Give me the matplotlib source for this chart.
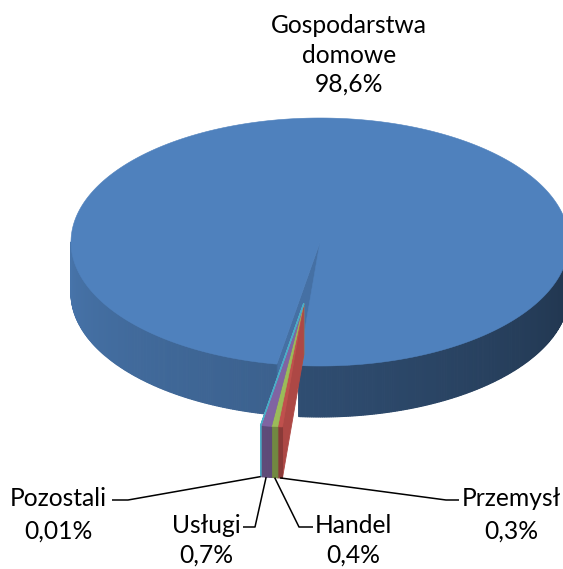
import numpy as np
import matplotlib
matplotlib.use("Agg")
import matplotlib.pyplot as plt
from matplotlib.patches import Polygon
from matplotlib.colors import to_rgb

# ---- data ----
categories = ["Gospodarstwa\ndomowe", "Przemysł", "Handel", "Usługi", "Pozostali"]
values = [98.6, 0.3, 0.4, 0.7, 0.01]
value_labels = ["98,6%", "0,3%", "0,4%", "0,7%", "0,01%"]
colors = ["#4f81bd", "#c0504d", "#9bbb59", "#8064a2", "#4bacc6"]
explode = [0.0, 0.5, 0.5, 0.5, 0.5]
first_slice_angle = 190.0

# ---- layout ----
W, H = 563, 569
fig = plt.figure(figsize=(W / 100, H / 100), dpi=100)
ax = fig.add_axes([0, 0, 1, 1])
ax.set_xlim(0, W)
ax.set_ylim(H, 0)
ax.axis("off")

FONT = "Lato"
FS = 17.7

cx, cy, a, b, depth = 320.0, 242.0, 249.0, 124.0, 51.0


def P(theta, r=1.0, off=(0.0, 0.0), z=0.0):
    t = np.radians(theta)
    return (cx + off[0] + r * a * np.sin(t), cy + off[1] - r * b * np.cos(t) + z)


def shade(c, f):
    r, g, bb = to_rgb(c)
    return (r * f, g * f, bb * f)


def wall_factor(theta):
    t = theta % 360
    return np.interp(t, [90, 184.9, 185.0, 190, 270], [0.40, 0.60, 0.72, 0.75, 0.90])


total = sum(values)
spans = [360.0 * v / total for v in values]
th0 = []
th1 = []
cur = first_slice_angle
for s in spans:
    th0.append(cur)
    th1.append(cur + s)
    cur += s

# offsets of exploded slices: common direction = bisector of exploded group
idx_exp = [i for i, e in enumerate(explode) if e > 0]
g0 = th0[idx_exp[0]]
g1 = th1[idx_exp[-1]]
gm = np.radians((g0 + g1) / 2)
offsets = []
for e in explode:
    offsets.append((e * a * np.sin(gm), -e * b * np.cos(gm)))


def poly(pts, fc, ec=None, lw=0.6, z=1):
    ax.add_patch(Polygon(pts, closed=True, facecolor=fc,
                         edgecolor=fc if ec is None else ec, linewidth=lw, zorder=z))


def radial_wall(i, f=0.88, z=1):
    off = offsets[i]
    t = th0[i]
    pts = [P(t, 0, off), P(t, 1, off), P(t, 1, off, depth), P(t, 0, off, depth)]
    ec = colors[i] if values[i] < 0.1 else None
    poly(pts, shade(colors[i], f), ec=shade(colors[i], f) if ec is None else ec, z=z)


def outer_wall(i, z=1):
    off = offsets[i]
    n = max(int((th1[i] - th0[i]) * 2), 2)
    ts = np.linspace(th0[i], th1[i], n + 1)
    for k in range(n):
        tm = (ts[k] + ts[k + 1]) / 2
        if 90 <= tm % 360 <= 270:
            pts = [P(ts[k], 1, off), P(ts[k + 1], 1, off),
                   P(ts[k + 1], 1, off, depth), P(ts[k], 1, off, depth)]
            c = shade(colors[i], wall_factor(tm))
            poly(pts, c, ec=colors[i] if values[i] < 0.1 else c, lw=0.8, z=z)


def top_face(i, z=1):
    off = offsets[i]
    n = max(int((th1[i] - th0[i]) * 2), 2)
    ts = np.linspace(th0[i], th1[i], n + 1)
    pts = [P(0, 0, off)] + [P(t, 1, off) for t in ts]
    ec = colors[i] if values[i] < 0.1 else None
    poly(pts, colors[i], ec=ec, lw=1.0 if ec else 0.4, z=z)


# main slice
radial_wall(0, 0.87, z=1)
outer_wall(0, z=2)
top_face(0, z=3)

# exploded small slices
for i in reversed(idx_exp):
    radial_wall(i, 0.9, z=4)
for i in idx_exp:
    outer_wall(i, z=5)
for i in idx_exp:
    top_face(i, z=6)

# ---- labels ----
txt = dict(fontfamily=FONT, fontsize=FS, color="#000000", ha="center", va="baseline", zorder=10)

label_pos = {  # (x center, first baseline, line step)
    0: (349, 33, 29.5),
    1: (511, 506, 33),
    2: (353, 533, 30),
    3: (206, 533, 30),
    4: (58, 506, 33),
}
leader = {  # label-end point, elbow point
    1: [(459, 500), (446, 500)],
    2: [(313, 527), (299, 527)],
    3: [(243, 527), (255, 527)],
    4: [(112, 500), (128, 500)],
}

for i in range(len(values)):
    x, y, step = label_pos[i]
    lines = categories[i].split("\n") + [value_labels[i]]
    for k, ln in enumerate(lines):
        ax.text(x, y + k * step, ln, **txt)

for i in idx_exp:
    tm = (th0[i] + th1[i]) / 2
    anchor = P(tm, 1, offsets[i], depth)
    p_end, p_elb = leader[i]
    xs = [p_end[0], p_elb[0], anchor[0]]
    ys = [p_end[1], p_elb[1], anchor[1]]
    ax.plot(xs, ys, color="black", lw=1.1, zorder=9, solid_capstyle="butt")

fig.savefig("out.png", dpi=100)
